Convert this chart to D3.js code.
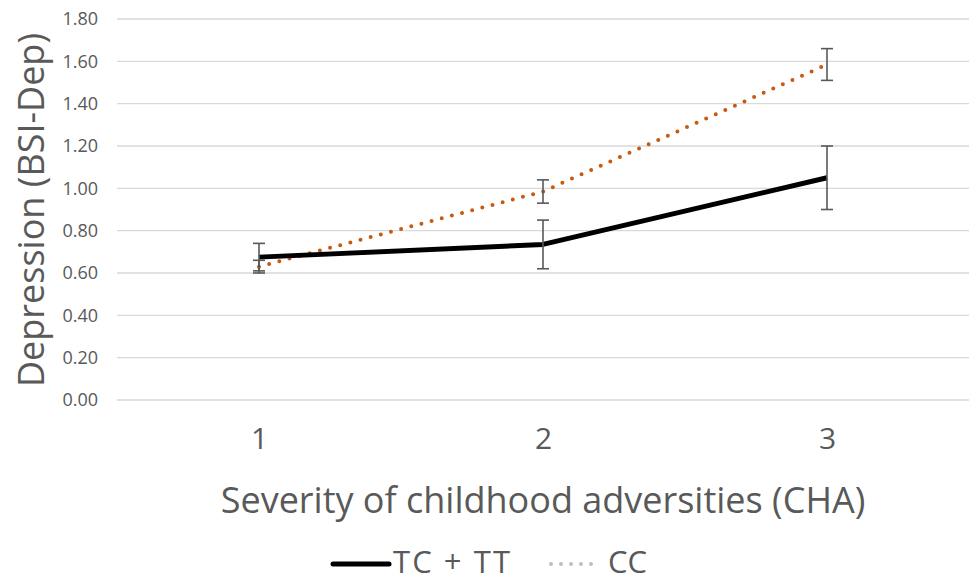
<!DOCTYPE html>
<html>
<head>
<meta charset="utf-8">
<script src="https://cdn.jsdelivr.net/npm/d3@7"></script>
<style>
  body { margin: 0; background: #fff; }
  text { font-family: "Open Sans", sans-serif; fill: #595959; }
</style>
</head>
<body>
<script>
var svgWidth = 972;
var svgHeight = 582;

// data
var categories = ["1", "2", "3"];
var tcTT = [0.675, 0.735, 1.05];
var tcTTErr = [0.065, 0.115, 0.15];
var cc = [0.63, 0.985, 1.585];
var ccErr = [0.03, 0.055, 0.075];
var yTicks = [0, 0.2, 0.4, 0.6, 0.8, 1.0, 1.2, 1.4, 1.6, 1.8];

var margin = { top: 19, left: 117, right: 3 };
var plotBottom = 400;

var svg = d3.select("body").append("svg")
    .attr("width", svgWidth)
    .attr("height", svgHeight);

var xScale = d3.scalePoint()
    .domain(categories)
    .range([259, 827]);

var yScale = d3.scaleLinear()
    .domain([0, 1.8])
    .range([plotBottom, margin.top]);

// gridlines
svg.append("g")
    .selectAll("line")
    .data(yTicks)
    .enter()
    .append("line")
    .attr("x1", margin.left)
    .attr("x2", svgWidth - margin.right)
    .attr("y1", d => yScale(d))
    .attr("y2", d => yScale(d))
    .attr("stroke", "#d9d9d9")
    .attr("stroke-width", 1.3);

// y axis labels
var yAxis = svg.append("g")
    .attr("transform", "translate(112,0)")
    .call(d3.axisLeft(yScale).tickValues(yTicks).tickFormat(d3.format(".2f")).tickSize(0).tickPadding(14));
yAxis.select(".domain").remove();
yAxis.selectAll("text").style("font-size", "18px").attr("fill", "#595959");

// x axis labels
var xAxis = svg.append("g")
    .attr("transform", "translate(0,428)")
    .call(d3.axisBottom(xScale).tickSize(0).tickPadding(0));
xAxis.select(".domain").remove();
xAxis.selectAll("text").style("font-size", "30px").attr("fill", "#595959");

// axis titles
svg.append("text")
    .attr("transform", "translate(44,210) rotate(-90)")
    .attr("text-anchor", "middle")
    .style("font-size", "36px")
    .text("Depression (BSI-Dep)");

svg.append("text")
    .attr("x", 543)
    .attr("y", 513)
    .attr("text-anchor", "middle")
    .style("font-size", "36px")
    .text("Severity of childhood adversities (CHA)");

var line = d3.line()
    .x((d, i) => xScale(categories[i]))
    .y(d => yScale(d));

// lines
svg.append("path")
    .datum(cc)
    .attr("d", line)
    .attr("fill", "none")
    .attr("stroke", "#C55A11")
    .attr("stroke-width", 4)
    .attr("stroke-linecap", "round")
    .attr("stroke-dasharray", "0,10.5");

svg.append("path")
    .datum(tcTT)
    .attr("d", line)
    .attr("fill", "none")
    .attr("stroke", "#000")
    .attr("stroke-width", 5)
    .attr("stroke-linejoin", "round");

// error bars
function errorBars(values, errs) {
    var g = svg.append("g").attr("stroke", "#595959").attr("stroke-width", 1.6);
    values.forEach((v, i) => {
        var x = xScale(categories[i]);
        var y0 = yScale(v - errs[i]);
        var y1 = yScale(v + errs[i]);
        g.append("line").attr("x1", x).attr("x2", x).attr("y1", y0).attr("y2", y1);
        g.append("line").attr("x1", x - 6).attr("x2", x + 6).attr("y1", y0).attr("y2", y0);
        g.append("line").attr("x1", x - 6).attr("x2", x + 6).attr("y1", y1).attr("y2", y1);
    });
}
errorBars(tcTT, tcTTErr);
errorBars(cc, ccErr);

// legend
var legend = svg.append("g");
legend.append("line")
    .attr("x1", 333).attr("x2", 389)
    .attr("y1", 564).attr("y2", 564)
    .attr("stroke", "#000").attr("stroke-width", 5).attr("stroke-linecap", "round");
legend.append("text")
    .attr("x", 393).attr("y", 573)
    .style("font-size", "31px")
    .attr("textLength", 117)
    .text("TC + TT");
legend.append("line")
    .attr("x1", 551).attr("x2", 601)
    .attr("y1", 564).attr("y2", 564)
    .attr("stroke", "#bfbfbf").attr("stroke-width", 4)
    .attr("stroke-linecap", "round").attr("stroke-dasharray", "0,10");
legend.append("text")
    .attr("x", 608).attr("y", 573)
    .style("font-size", "31px")
    .text("CC");
</script>
</body>
</html>
